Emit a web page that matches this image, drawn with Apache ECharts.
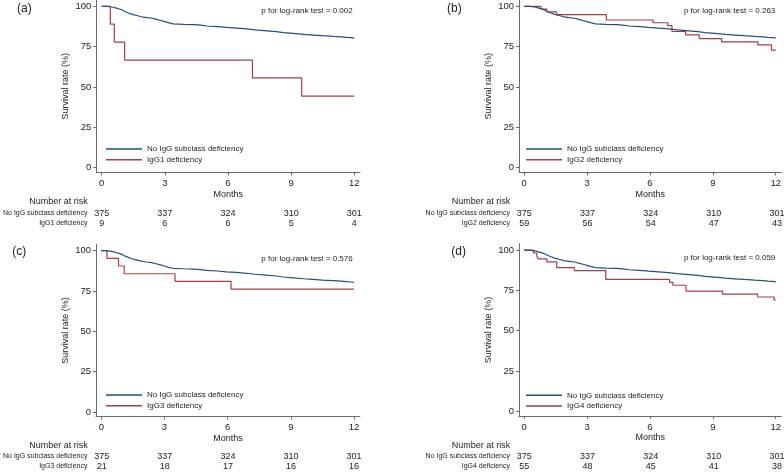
<!DOCTYPE html>
<html>
<head>
<meta charset="utf-8">
<script src="https://cdn.jsdelivr.net/npm/echarts@6/dist/echarts.min.js"></script>
<style>html,body{margin:0;padding:0;background:#fff}#c{width:784px;height:472px}</style>
</head>
<body>
<div id="c"></div>
<script>
// ---- data ----
const tickMonths = [0, 3, 6, 9, 12];
const tickSurv = [0, 25, 50, 75, 100];
const panelLabels = ['(a)', '(b)', '(c)', '(d)'];
const pValues = ['0.002', '0.263', '0.576', '0.059'];
const refName = 'No IgG subclass deficiency';
const defNames = ['IgG1 deficiency', 'IgG2 deficiency', 'IgG3 deficiency', 'IgG4 deficiency'];

// KM curve of reference group (month, survival %)
const refCurve = [[0,100],[0.25,99.7],[0.4,99.4],[0.55,98.9],[0.7,98.3],[0.85,97.6],[1.0,96.8],[1.1,96.0],[1.25,95.0],[1.45,94.3],[1.66,93.5],[1.9,93.0],[2.14,92.6],[2.4,91.9],[2.6,91.2],[2.8,90.5],[3.0,89.7],[3.2,89.1],[3.4,88.8],[3.9,88.6],[4.4,88.3],[4.7,87.8],[5.0,87.4],[5.5,86.9],[5.94,86.5],[6.4,86.0],[6.89,85.4],[7.3,84.8],[7.84,84.3],[8.3,83.7],[8.63,83.2],[9.1,82.6],[9.6,82.2],[10.05,81.8],[10.5,81.4],[11.0,81.1],[11.4,80.8],[11.63,80.6],[11.85,80.3],[12,80.2]];
const igg1Curve = [[0,100],[0.41,88.9],[0.6,77.8],[1.09,66.7],[7.16,55.6],[9.5,44.4],[12,44.4]];
const igg2Curve = [[0,100],[0.8,98.3],[1.08,96.6],[1.54,94.9],[3.92,91.5],[6.15,89.8],[6.85,88.0],[7.05,84.4],[7.7,82.3],[8.35,80.0],[9.42,77.9],[11.15,76.1],[11.8,72.8],[12,72.8]];
const igg3Curve = [[0,100],[0.27,95.2],[0.82,90.5],[1.09,85.7],[3.5,81.0],[6.16,76.2],[12,76.2]];
const igg4Curve = [[0,100],[0.44,98.2],[0.6,96.4],[0.65,94.6],[1.08,92.7],[1.55,89.1],[2.39,87.3],[3.89,81.8],[6.93,80.0],[7.09,78.2],[7.72,74.5],[9.47,72.7],[11.13,70.9],[11.92,69.1],[12,69.1]];
const defCurves = [igg1Curve, igg2Curve, igg3Curve, igg4Curve];

// numbers at risk at tickMonths
const riskRef = [375, 337, 324, 310, 301];
const riskIgG1 = [9, 6, 6, 5, 4];
const riskIgG2 = [59, 56, 54, 47, 43];
const riskIgG3 = [21, 18, 17, 16, 16];
const riskIgG4 = [55, 48, 45, 41, 38];
const riskDef = [riskIgG1, riskIgG2, riskIgG3, riskIgG4];

// ---- layout ----
const FONT = '"Liberation Sans", Arial, sans-serif';
const BLUE = '#244f7c';
const RED = '#a53f46';
const TXT = '#222';
const AX = '#6a6a6a';
const plotBoxes = [
  {left: 96.4, top: 0, width: 263.6, height: 172.4},
  {left: 519, top: 0, width: 263.7, height: 172.4},
  {left: 96, top: 244.4, width: 263.8, height: 172.3},
  {left: 519, top: 243.8, width: 263.7, height: 172.2}
];
const riskBoxes = [
  {left: 96.4, top: 208.5, width: 263.6, height: 20},
  {left: 519, top: 208.5, width: 263.7, height: 20},
  {left: 96, top: 451.5, width: 263.8, height: 19.5},
  {left: 519, top: 451.5, width: 263.7, height: 19.5}
];
const legendPos = [[106, 144], [526, 144], [106, 390], [526, 390.3]];
const panelLabelPos = [[17, 9.7], [447, 9.7], [12.3, 252.7], [451.3, 252.7]];
const pPos = [[352.7, 10.3], [775.3, 10.3], [352.7, 258.3], [775.3, 257.7]];
const narPos = [[87.7, 202], [510.3, 202], [87.7, 445.3], [510.3, 445.3]];

const grid = [], xAxis = [], yAxis = [], series = [], legend = [], graphic = [];
for (let p = 0; p < 4; p++) {
  grid.push(Object.assign({containLabel: false}, plotBoxes[p]));
  grid.push(Object.assign({containLabel: false}, riskBoxes[p]));
  const gi = p * 2, ri = p * 2 + 1;
  xAxis.push({
    gridIndex: gi, type: 'value', min: -0.25, max: 12.27,
    name: 'Months', nameLocation: 'middle', nameGap: 17.5,
    nameTextStyle: {fontFamily: FONT, fontSize: 9, color: TXT},
    axisLine: {onZero: false, lineStyle: {color: AX, width: 1}},
    axisTick: {customValues: tickMonths, length: 3, lineStyle: {color: AX}},
    axisLabel: {customValues: tickMonths, margin: 6, fontFamily: FONT, fontSize: 9.5, color: TXT},
    splitLine: {show: false}
  });
  yAxis.push({
    gridIndex: gi, type: 'value', min: -2.9, max: 103.9,
    name: 'Survival rate (%)', nameLocation: 'middle', nameGap: 26,
    nameTextStyle: {fontFamily: FONT, fontSize: 9, color: TXT},
    axisLine: {show: true, onZero: false, lineStyle: {color: AX, width: 1}},
    axisTick: {show: true, customValues: tickSurv, length: 3, lineStyle: {color: AX}},
    axisLabel: {customValues: tickSurv, margin: 5, fontFamily: FONT, fontSize: 9.5, color: TXT},
    splitLine: {show: false}
  });
  xAxis.push({gridIndex: ri, type: 'value', min: -0.25, max: 12.27, show: false});
  yAxis.push({
    gridIndex: ri, type: 'category', inverse: true, data: [refName, defNames[p]],
    axisLine: {show: false}, axisTick: {show: false}, splitLine: {show: false},
    axisLabel: {margin: 9, fontFamily: FONT, fontSize: 7, color: TXT}
  });
  series.push({
    name: refName, type: 'line', step: 'end', xAxisIndex: gi, yAxisIndex: gi,
    data: refCurve, symbol: 'none', color: BLUE, lineStyle: {width: 1.2, color: BLUE}, z: 3
  });
  series.push({
    name: defNames[p], type: 'line', step: 'end', xAxisIndex: gi, yAxisIndex: gi,
    data: defCurves[p], symbol: 'none', color: RED, lineStyle: {width: 1.2, color: RED}, z: 2
  });
  const riskData = [];
  tickMonths.forEach((m, i) => {
    riskData.push([m, 0, riskRef[i]]);
    riskData.push([m, 1, riskDef[p][i]]);
  });
  series.push({
    type: 'scatter', xAxisIndex: ri, yAxisIndex: ri, data: riskData,
    symbolSize: 2, itemStyle: {color: 'rgba(0,0,0,0)'}, silent: true,
    label: {show: true, position: 'inside', formatter: d => String(d.value[2]),
      fontFamily: FONT, fontSize: 9, color: TXT, opacity: 1}
  });
  legend.push({
    orient: 'vertical', left: legendPos[p][0], top: legendPos[p][1], padding: 0,
    itemWidth: 36, itemHeight: 1.5, itemGap: 0.7, icon: 'rect',
    data: [refName, defNames[p]], selectedMode: false,
    textStyle: {fontFamily: FONT, fontSize: 8, color: TXT, lineHeight: 10}
  });
  graphic.push({type: 'text', left: panelLabelPos[p][0], top: panelLabelPos[p][1] - 7,
    style: {text: panelLabels[p], font: '12px ' + FONT, fill: TXT}});
  graphic.push({type: 'text', x: pPos[p][0], y: pPos[p][1],
    style: {text: 'p for log-rank test = ' + pValues[p], font: '8px ' + FONT, fill: TXT,
      textAlign: 'right', textVerticalAlign: 'middle'}});
  graphic.push({type: 'text', x: narPos[p][0], y: narPos[p][1],
    style: {text: 'Number at risk', font: '9px ' + FONT, fill: TXT,
      textAlign: 'right', textVerticalAlign: 'middle'}});
}

const chart = echarts.init(document.getElementById('c'), null, {renderer: 'canvas'});
chart.setOption({
  animation: false,
  backgroundColor: '#fff',
  grid, xAxis, yAxis, series, legend, graphic
});
</script>
</body>
</html>
